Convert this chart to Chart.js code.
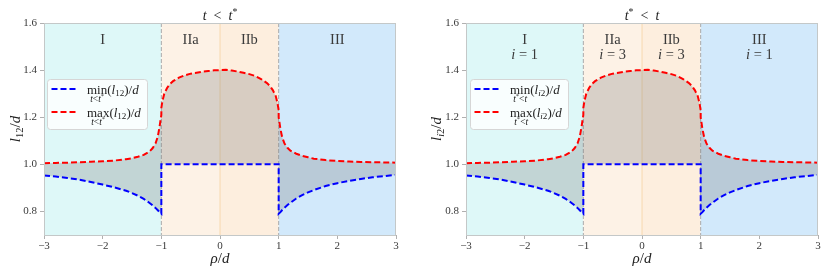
<!DOCTYPE html>
<html><head><meta charset="utf-8">
<script src="https://cdn.jsdelivr.net/npm/chart.js@4.4.1/dist/chart.umd.min.js"></script>
<style>
html,body{margin:0;padding:0;background:#fff;}
body{width:831px;height:276px;overflow:hidden;position:relative;}
canvas{position:absolute;top:0;}
</style></head>
<body>
<canvas id="c1" width="415" height="276" style="left:0"></canvas>
<canvas id="c2" width="416" height="276" style="left:415px"></canvas>
<script>
// ---------- data ----------
const xVals = [-3, -2.8, -2.6, -2.4, -2.2, -2, -1.8, -1.6, -1.5, -1.4, -1.3, -1.2, -1.15, -1.1, -1.06, -1.03,
  -1, -1,
  -0.98, -0.95, -0.9, -0.85, -0.8, -0.7, -0.6, -0.5, -0.4, -0.3, -0.2, -0.1, 0,
  0.1, 0.2, 0.3, 0.4, 0.5, 0.6, 0.7, 0.8, 0.85, 0.9, 0.95, 0.98,
  1, 1,
  1.03, 1.06, 1.1, 1.15, 1.2, 1.3, 1.4, 1.5, 1.6, 1.8, 2, 2.2, 2.4, 2.6, 2.8, 3];

const minVals = [0.953, 0.948, 0.942, 0.935, 0.925, 0.914, 0.902, 0.888, 0.878, 0.867, 0.853, 0.836, 0.826, 0.815, 0.805, 0.797,
  0.79, 1.0,
  1.0, 1.0, 1.0, 1.0, 1.0, 1.0, 1.0, 1.0, 1.0, 1.0, 1.0, 1.0, 1.0,
  1.0, 1.0, 1.0, 1.0, 1.0, 1.0, 1.0, 1.0, 1.0, 1.0, 1.0, 1.0,
  1.0, 0.79,
  0.797, 0.806, 0.816, 0.827, 0.837, 0.855, 0.869, 0.881, 0.891, 0.908, 0.92, 0.93, 0.938, 0.945, 0.95, 0.955];

const maxVals = [1.005, 1.006, 1.007, 1.009, 1.011, 1.013, 1.016, 1.022, 1.026, 1.032, 1.040, 1.055, 1.068, 1.088, 1.118, 1.16,
  1.21, 1.24,
  1.27, 1.30, 1.325, 1.342, 1.353, 1.368, 1.378, 1.385, 1.389, 1.393, 1.396, 1.399, 1.40,
  1.401, 1.398, 1.394, 1.389, 1.383, 1.375, 1.362, 1.345, 1.333, 1.315, 1.29, 1.26,
  1.23, 1.20,
  1.15, 1.115, 1.088, 1.07, 1.058, 1.045, 1.036, 1.03, 1.024, 1.018, 1.014, 1.012, 1.01, 1.009, 1.008, 1.007];

const xTicks = [-3, -2, -1, 0, 1, 2, 3];
const yTicks = [0.8, 1.0, 1.2, 1.4, 1.6];
const regionEdges = [-3, -1, 0, 1, 3];
const regionNames = ['I', 'IIa', 'IIb', 'III'];
const regionIndex = ['1', '3', '3', '1'];

// ---------- styles ----------
const FONT = 'Liberation Serif';
const regionColors = ['rgb(222,248,248)', 'rgb(253,242,230)', 'rgb(253,238,222)', 'rgb(210,233,251)'];
const TXT = '#3a3a3a';

function fontStr(size, italic) { return (italic ? 'italic ' : '') + size + 'px "' + FONT + '"'; }

// segs: {t, i (italic), s: 'sub'|'sup'}
function rich(ctx, segs, x, y, size, align) {
  const parts = segs.map(sg => {
    const sz = sg.s ? size * 0.7 : size;
    ctx.font = fontStr(sz, sg.i);
    return {sg, sz, w: ctx.measureText(sg.t).width};
  });
  const total = parts.reduce((a, p) => a + p.w, 0);
  let cx = align === 'center' ? x - total / 2 : x;
  ctx.textAlign = 'left';
  ctx.textBaseline = 'alphabetic';
  for (const p of parts) {
    ctx.font = fontStr(p.sz, p.sg.i);
    let dy = 0;
    if (p.sg.s === 'sub') dy = size * 0.22;
    if (p.sg.s === 'sup') dy = -size * 0.38;
    ctx.fillText(p.sg.t, cx, y + dy);
    cx += p.w;
  }
  return total;
}

function makeChart(canvasId, cfg) {
  const bgPlugin = {
    id: 'bg',
    beforeDraw(chart) {
      const {ctx, chartArea: a, scales: {x}} = chart;
      ctx.save();
      for (let i = 0; i < regionNames.length; i++) {
        const x0 = x.getPixelForValue(regionEdges[i]);
        const x1 = x.getPixelForValue(regionEdges[i + 1]);
        ctx.fillStyle = regionColors[i];
        ctx.fillRect(x0, a.top, x1 - x0, a.bottom - a.top);
      }
      ctx.strokeStyle = 'rgba(245,200,140,0.6)';
      ctx.lineWidth = 1;
      const x0 = x.getPixelForValue(0);
      ctx.beginPath(); ctx.moveTo(x0, a.top); ctx.lineTo(x0, a.bottom); ctx.stroke();
      ctx.strokeStyle = '#aaa';
      ctx.setLineDash([4, 2]);
      for (const v of [-1, 1]) {
        const px = x.getPixelForValue(v);
        ctx.beginPath(); ctx.moveTo(px, a.top); ctx.lineTo(px, a.bottom); ctx.stroke();
      }
      ctx.setLineDash([]);
      ctx.restore();
    },
    afterDraw(chart) {
      const {ctx, chartArea: a, scales: {x, y}} = chart;
      ctx.save();
      ctx.strokeStyle = '#c4c8c8';
      ctx.lineWidth = 1;
      ctx.strokeRect(Math.round(a.left) + 0.5, Math.round(a.top) + 0.5, Math.round(a.right - a.left) - 1, Math.round(a.bottom - a.top));
      ctx.fillStyle = TXT;
      for (let i = 0; i < regionNames.length; i++) {
        const cxp = x.getPixelForValue((regionEdges[i] + regionEdges[i + 1]) / 2);
        rich(ctx, [{t: regionNames[i]}], cxp, y.getPixelForValue(1.534) + 5, 14.5, 'center');
        if (cfg.showIndex) {
          rich(ctx, [{t: 'i', i: 1}, {t: ' = ' + regionIndex[i]}], cxp, y.getPixelForValue(1.469) + 5, 14.5, 'center');
        }
      }
      const mid = (a.left + a.right) / 2;
      ctx.fillStyle = '#222';
      rich(ctx, cfg.title, mid, 20, 14, 'center');
      rich(ctx, [{t: 'ρ', i: 1}, {t: '/'}, {t: 'd', i: 1}], mid, 263, 15, 'center');
      ctx.save();
      ctx.translate(cfg.ylabX, (a.top + a.bottom) / 2);
      ctx.rotate(-Math.PI / 2);
      rich(ctx, cfg.ylab, 0, 5, 15, 'center');
      ctx.restore();
      // legend
      const lx = a.left + cfg.legDx, ly = a.top + 56, lw = cfg.legW, lh = 50;
      ctx.fillStyle = 'rgba(255,255,255,0.8)';
      ctx.strokeStyle = '#d6d6d6';
      ctx.lineWidth = 1;
      ctx.beginPath();
      ctx.roundRect(lx + 0.5, ly + 0.5, lw, lh, 3);
      ctx.fill(); ctx.stroke();
      const rows = [{c: 'blue', op: 'min', yy: ly + 10}, {c: 'red', op: 'max', yy: ly + 33}];
      for (const r of rows) {
        ctx.strokeStyle = r.c; ctx.lineWidth = 2; ctx.setLineDash([6, 3]);
        ctx.beginPath(); ctx.moveTo(lx + 4.5, r.yy); ctx.lineTo(lx + 31, r.yy); ctx.stroke();
        ctx.setLineDash([]);
        ctx.fillStyle = '#222';
        const tx = lx + 40;
        ctx.font = fontStr(13, false);
        const wop = ctx.measureText(r.op).width;
        rich(ctx, [{t: r.op}, {t: '('}, {t: 'l', i: 1}].concat(cfg.legSub).concat([{t: ')/'}, {t: 'd', i: 1}]), tx, r.yy + 4.5, 13, 'left');
        rich(ctx, cfg.legUnder, tx + wop / 2, r.yy + 12.5, 9.5, 'center');
      }
      ctx.restore();
    }
  };

  const ds = (vals, color, fill) => ({
    data: xVals.map((v, i) => ({x: v, y: vals[i]})),
    borderColor: color,
    borderWidth: 2,
    borderDash: [6, 3],
    pointRadius: 0,
    tension: 0,
    fill: fill,
    backgroundColor: 'rgba(120,120,120,0.27)'
  });

  const tickFont = {family: '"' + FONT + '"', size: 11};
  return new Chart(document.getElementById(canvasId), {
    type: 'line',
    data: {datasets: [ds(minVals, 'blue', false), ds(maxVals, 'red', '-1')]},
    plugins: [bgPlugin],
    options: {
      responsive: false,
      animation: false,
      events: [],
      layout: {padding: {top: 23, right: cfg.padR, bottom: 0, left: 0}},
      plugins: {legend: {display: false}, tooltip: {enabled: false}, title: {display: false}},
      scales: {
        x: {
          type: 'linear', min: -3, max: 3,
          afterBuildTicks: s => { s.ticks = xTicks.map(v => ({value: v})); },
          afterFit: s => { s.height = 41; },
          grid: {drawOnChartArea: false, drawTicks: true, tickLength: 4, tickColor: '#b0b0b0'},
          border: {display: false},
          ticks: {font: tickFont, color: TXT, padding: 1, maxRotation: 0, autoSkip: false,
            callback: v => (v < 0 ? '\u2212' : '') + Math.abs(v)}
        },
        y: {
          min: 0.7, max: 1.6,
          afterBuildTicks: s => { s.ticks = yTicks.map(v => ({value: v})); },
          afterFit: s => { s.width = cfg.yW; },
          grid: {drawOnChartArea: false, drawTicks: true, tickLength: 4, tickColor: '#b0b0b0'},
          border: {display: false},
          ticks: {font: tickFont, color: TXT, padding: 3,
            callback: v => v.toFixed(1)}
        }
      }
    }
  });
}

makeChart('c1', {
  title: [{t: 't', i: 1}, {t: '  <  '}, {t: 't', i: 1}, {t: '*', s: 'sup'}],
  ylab: [{t: 'l', i: 1}, {t: '12', s: 'sub'}, {t: '/'}, {t: 'd', i: 1}],
  ylabX: 15, yW: 44, padR: 19, legDx: 3, legW: 100, showIndex: false,
  legSub: [{t: '12', s: 'sub'}],
  legUnder: [{t: 't', i: 1}, {t: '<'}, {t: 't', i: 1}, {t: '*', s: 'sup'}]
});
makeChart('c2', {
  title: [{t: 't', i: 1}, {t: '*', s: 'sup'}, {t: '  <  '}, {t: 't', i: 1}],
  ylab: [{t: 'l', i: 1}, {t: 'i', i: 1, s: 'sub'}, {t: '2', s: 'sub'}, {t: '/'}, {t: 'd', i: 1}],
  ylabX: 21, yW: 51, padR: 13, legDx: 4, legW: 98, showIndex: true,
  legSub: [{t: 'i', i: 1, s: 'sub'}, {t: '2', s: 'sub'}],
  legUnder: [{t: 't', i: 1}, {t: '*', s: 'sup'}, {t: '<'}, {t: 't', i: 1}]
});
</script>
</body></html>
